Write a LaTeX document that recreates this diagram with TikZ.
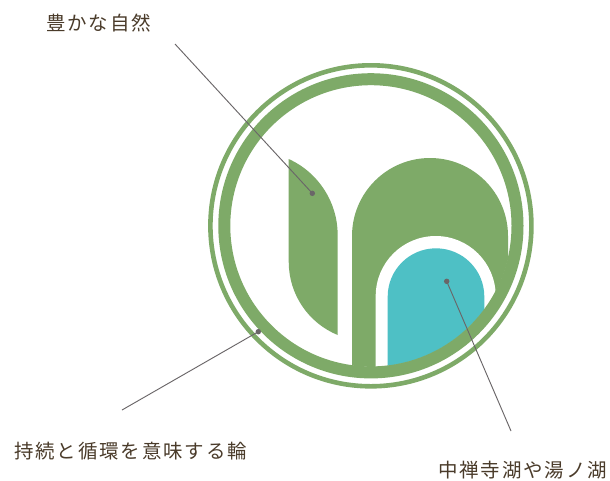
\documentclass[tikz,border=0pt]{standalone}
\usepackage{fontspec}
\newfontfamily\jpfont[LetterSpace=9.5]{Noto Sans CJK JP}
\definecolor{leafgreen}{HTML}{7EAA68}
\definecolor{laketeal}{HTML}{4EC0C5}
\definecolor{pointer}{HTML}{6A6668}
\definecolor{labeltext}{HTML}{4A3B2A}
\tikzset{
  fillgreen/.style={fill=leafgreen,draw=none},
  pointerline/.style={draw=pointer,line width=0.7pt},
  pointerdot/.style={circle,fill=pointer,draw=none,minimum size=4.1pt,inner sep=0pt},
  caption/.style={text=labeltext,inner sep=0pt,font=\jpfont\fontsize{14.6pt}{17pt}\selectfont}
}
\begin{document}
\begin{tikzpicture}[x=0.75pt,y=-0.75pt]
\useasboundingbox (0,0) rectangle (610,480);
\fill[white] (0,0) rectangle (610,480);
% outer rings
\fill[fillgreen,even odd rule] (370.9,225.8) circle [radius=162.8] (370.9,225.8) circle [radius=158.2];
% contents clipped to inner disc
\begin{scope}
\clip (370.9,225.8) circle [radius=141];
\fill[fillgreen] (352,400) -- (352,236) arc [start angle=180,end angle=360,radius=78] -- (508,400) -- cycle;
\fill[white] (375.7,400) -- (375.7,296) arc [start angle=180,end angle=360,radius=60] -- (495.7,400) -- cycle;
\fill[laketeal] (387.7,400) -- (387.7,296.6) arc [start angle=180,end angle=360,radius=48.3] -- (484.3,400) -- cycle;
\end{scope}
% thick ring
\fill[fillgreen,even odd rule] (370.9,225.8) circle [radius=152.6] (370.9,225.8) circle [radius=140.6];
% leaf
\fill[fillgreen] (288.7,159) arc [start angle=-65.6,end angle=0,radius=83.4] -- (337.7,335)
  arc [start angle=112.3,end angle=180,radius=78.9] -- cycle;
% pointers
\node[pointerdot] (d1) at (312.3,193.3) {};
\node[pointerdot] (d2) at (258.3,331.7) {};
\node[pointerdot] (d3) at (446.7,281.3) {};
\coordinate (e1) at (175,44);
\coordinate (e2) at (122,410);
\coordinate (e3) at (511,431);
\draw[pointerline] (e1) -- (d1.center);
\draw[pointerline] (e2) -- (d2.center);
\draw[pointerline] (e3) -- (d3.center);
% labels
\node[caption,anchor=west] (t1) at (46,23) {豊かな自然};
\node[caption,anchor=west] (t2) at (14,451) {持続と循環を意味する輪};
\node[caption,anchor=west] (t3) at (438,470) {中禅寺湖や湯ノ湖};
\end{tikzpicture}
\end{document}
